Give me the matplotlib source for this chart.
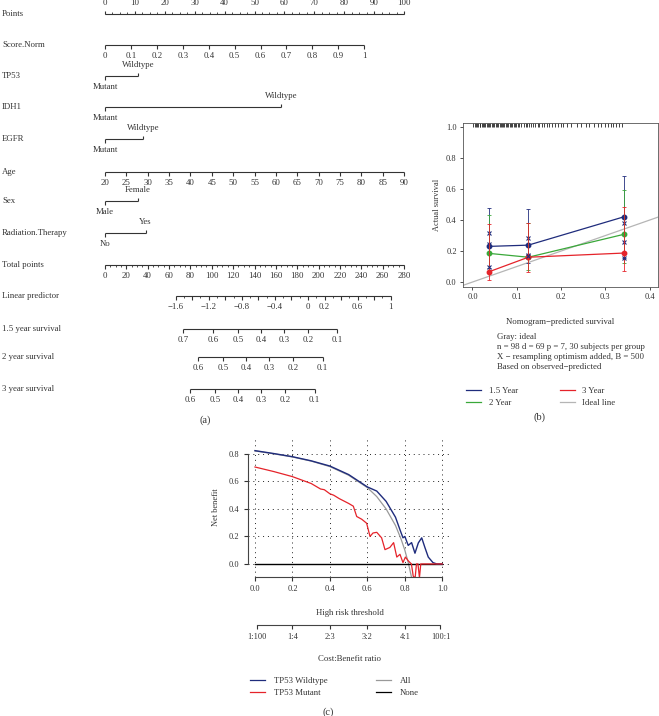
import numpy as np
import matplotlib
matplotlib.use("Agg")
import matplotlib.pyplot as plt
from matplotlib.lines import Line2D

plt.rcParams['font.family'] = ['Liberation Serif', 'DejaVu Serif']

# ---------------- data: nomogram (a) ----------------
points_ticks = list(range(0, 101, 10))
score_norm_ticks = [0, 0.1, 0.2, 0.3, 0.4, 0.5, 0.6, 0.7, 0.8, 0.9, 1]
score_norm_max_pts = 86.7
tp53_levels = ["Mutant", "Wildtype"]
tp53_pts = [0, 11.0]
idh1_levels = ["Mutant", "Wildtype"]
idh1_pts = [0, 59.0]
egfr_levels = ["Mutant", "Wildtype"]
egfr_pts = [0, 12.7]
age_ticks = list(range(20, 91, 5))
age_max_pts = 100
sex_levels = ["Male", "Female"]
sex_pts = [0, 11.0]
radio_levels = ["No", "Yes"]
radio_pts = [0, 13.6]
total_ticks = list(range(0, 281, 20))
total_max = 280
lp_labels = [-1.6, -1.2, -0.8, -0.4, 0, 0.2, 0.6, 1]
lp_range = (-1.6, 1.0)
lp_total_at0 = 190.1      # total points at linear predictor 0
lp_total_slope = 77.44    # total points per unit of linear predictor
surv_15_ticks = [0.7, 0.6, 0.5, 0.4, 0.3, 0.2, 0.1]
surv_2_ticks = [0.6, 0.5, 0.4, 0.3, 0.2, 0.1]
surv_3_ticks = [0.6, 0.5, 0.4, 0.3, 0.2, 0.1]
surv_offset = {"1.5": 0.479, "2": 0.658, "3": 0.755}   # log(-log S0)

# ---------------- data: calibration (b) ----------------
cal_pred = [0.037, 0.126, 0.342]
obs_15 = [0.230, 0.238, 0.421]
cor_15 = [0.314, 0.286, 0.379]
lo_15 = [0.090, 0.120, 0.155]
hi_15 = [0.476, 0.471, 0.685]
obs_2 = [0.185, 0.160, 0.308]
cor_2 = [0.245, 0.175, 0.260]
lo_2 = [0.060, 0.075, 0.120]
hi_2 = [0.432, 0.380, 0.594]
obs_3 = [0.066, 0.160, 0.187]
cor_3 = [0.100, 0.165, 0.157]
lo_3 = [0.013, 0.066, 0.073]
hi_3 = [0.374, 0.383, 0.486]
rug_pred = [0.002, 0.005, 0.008, 0.010, 0.013, 0.016, 0.018, 0.021, 0.024,
             0.027, 0.029, 0.032, 0.035, 0.037, 0.040, 0.043, 0.046, 0.049,
             0.052, 0.055, 0.058, 0.061, 0.064, 0.067, 0.070, 0.072, 0.075,
             0.078, 0.081, 0.084, 0.087, 0.090, 0.093, 0.096, 0.099, 0.102,
             0.106, 0.110, 0.116, 0.120, 0.124, 0.128, 0.133, 0.137, 0.142,
             0.147, 0.151, 0.156, 0.162, 0.168, 0.173, 0.179, 0.186, 0.192,
             0.199, 0.205, 0.214, 0.222, 0.236, 0.244, 0.256, 0.263, 0.274,
             0.283, 0.291, 0.298, 0.306, 0.312, 0.318, 0.325, 0.331, 0.338]

# ---------------- data: decision curve (c) ----------------
thr_wt = [0, 0.1, 0.2, 0.3, 0.4, 0.5, 0.6, 0.65, 0.7, 0.75, 0.775, 0.79,
          0.80, 0.818, 0.836, 0.854, 0.872, 0.89, 0.907, 0.925, 0.95, 0.97, 1.0]
nb_wt = [0.824, 0.803, 0.78, 0.75, 0.712, 0.65, 0.56, 0.53, 0.455, 0.34,
         0.245, 0.19, 0.2, 0.135, 0.155, 0.078, 0.153, 0.19, 0.12, 0.05,
         0.01, 0.0, 0.0]
thr_mut = [0, 0.1, 0.2, 0.3, 0.35, 0.37, 0.4, 0.42, 0.45, 0.5, 0.525, 0.543,
           0.57, 0.596, 0.614, 0.63, 0.65, 0.676, 0.694, 0.72, 0.74, 0.757,
           0.774, 0.79, 0.803, 0.82, 0.835, 0.845, 0.855, 0.862, 0.87, 0.878,
           0.885, 1.0]
nb_mut = [0.705, 0.672, 0.635, 0.585, 0.545, 0.54, 0.51, 0.50, 0.475, 0.44,
          0.42, 0.345, 0.325, 0.296, 0.2, 0.225, 0.23, 0.19, 0.104, 0.12,
          0.155, 0.05, 0.07, 0.01, 0.05, 0.02, 0.0, -0.09, -0.1, 0.0, 0.0,
          -0.1, 0.0, 0.0]
thr_all = [0, 0.1, 0.2, 0.3, 0.4, 0.5, 0.6, 0.65, 0.7, 0.75, 0.78, 0.8,
           0.82, 0.84, 0.86]
nb_all = [0.822, 0.801, 0.778, 0.748, 0.708, 0.645, 0.555, 0.49, 0.40, 0.28,
          0.18, 0.10, 0.0, -0.125, -0.29]
thr_none = [0, 1.0]
nb_none = [0, 0]
cost_benefit = ["1:100", "1:4", "2:3", "3:2", "4:1", "100:1"]

# ---------------- layout helpers ----------------
W, H = 659, 716
fig = plt.figure(figsize=(W / 100, H / 100), dpi=100)
INK = '#333333'
FS = 6.3
NAVY = '#1f2c7c'
RED = '#e5232a'
GREEN = '#3aa83a'
GRAY = '#b5b5b5'


def px_axes(x0, y0, x1, y1):
    return fig.add_axes([x0 / W, 1 - y1 / H, (x1 - x0) / W, (y1 - y0) / H])


def ftext(x, y, s, **kw):
    kw.setdefault('fontsize', FS)
    kw.setdefault('color', INK)
    fig.text(x / W, 1 - y / H, s, **kw)


def fmt(v):
    return ('%g' % v).replace('-', '\u2212')


# ---------------- (a) nomogram ----------------
axa = px_axes(0, 0, 420, 425)
axa.set_xlim(-105 / 2.99, 315 / 2.99)
axa.set_ylim(425, 0)
axa.axis('off')


def nomo_scale(y, ticks, lab_pos, labels, side='below', minor=None):
    d = 1 if side == 'below' else -1
    axa.hlines(y, min(ticks), max(ticks), color=INK, lw=0.8)
    axa.vlines(ticks, y, y + d * 3.5, color=INK, lw=0.8)
    if minor is not None:
        axa.vlines(minor, y, y + d * 2, color=INK, lw=0.6)
    for p, lab in zip(lab_pos, labels):
        axa.text(p, y + d * 11, lab, ha='center', va='center',
                 fontsize=FS, color=INK)


def nomo_cat(y, pts, levels):
    axa.hlines(y, min(pts), max(pts), color=INK, lw=0.8)
    for i, (p, lev) in enumerate(zip(pts, levels)):
        d = 1 if i % 2 == 0 else -1
        axa.vlines(p, y, y + d * 3.5, color=INK, lw=0.8)
        axa.text(p, y + d * 11, lev, ha='center', va='center',
                 fontsize=FS, color=INK)


def row_label(y, s):
    axa.text(0.005, y, s, transform=axa.get_yaxis_transform(),
             ha='left', va='center', fontsize=FS, color=INK)


def total_to_pts(t):
    return np.asarray(t, dtype=float) * 100 / total_max


def lp_to_pts(lp):
    return total_to_pts(lp_total_at0 + lp_total_slope * np.asarray(lp))


def surv_to_pts(s, key):
    lp = np.log(-np.log(np.asarray(s))) - surv_offset[key]
    return lp_to_pts(lp)


y = 14
row_label(y, "Points")
nomo_scale(y, points_ticks, points_ticks, [str(t) for t in points_ticks],
           side='above', minor=np.arange(0, 100.1, 2.5))

y = 45
row_label(y, "Score.Norm")
sp = np.array(score_norm_ticks) * score_norm_max_pts
nomo_scale(y, sp, sp, [fmt(t) for t in score_norm_ticks])

for y, name, pts, lev in [(76, "TP53", tp53_pts, tp53_levels),
                          (107, "IDH1", idh1_pts, idh1_levels),
                          (139, "EGFR", egfr_pts, egfr_levels)]:
    row_label(y, name)
    nomo_cat(y, pts, lev)

y = 172
row_label(y, "Age")
ap = (np.array(age_ticks) - age_ticks[0]) * age_max_pts / (age_ticks[-1] - age_ticks[0])
nomo_scale(y, ap, ap, [str(a) for a in age_ticks])

for y, name, pts, lev in [(201, "Sex", sex_pts, sex_levels),
                          (233, "Radiation.Therapy", radio_pts, radio_levels)]:
    row_label(y, name)
    nomo_cat(y, pts, lev)

y = 265
row_label(y, "Total points")
tp = total_to_pts(total_ticks)
nomo_scale(y, tp, tp, [str(t) for t in total_ticks],
           minor=total_to_pts(np.arange(0, total_max + 1, 5)))

y = 296
row_label(y, "Linear predictor")
lp_major = np.round(np.arange(lp_range[0], lp_range[1] + 0.01, 0.2), 2)
lp_minor = np.round(np.arange(lp_range[0], lp_range[1] + 0.01, 0.1), 2)
nomo_scale(y, lp_to_pts(lp_major), lp_to_pts(lp_labels),
           [fmt(v) for v in lp_labels], minor=lp_to_pts(lp_minor))

for y, key, ticks in [(329, "1.5", surv_15_ticks), (357, "2", surv_2_ticks),
                      (389, "3", surv_3_ticks)]:
    row_label(y, "%s year survival" % key)
    p = surv_to_pts(ticks, key)
    nomo_scale(y, p, p, [fmt(t) for t in ticks])

ftext(205, 420, "(a)", fontsize=7.5, ha='center', va='center')

# ---------------- (b) calibration ----------------
axb = px_axes(463, 123, 658, 287)
axb.set_xlim(-0.0214, 0.4187)
axb.set_ylim(-0.032, 1.026)
for s in axb.spines.values():
    s.set_color('#555555')
    s.set_linewidth(0.6)
axb.tick_params(direction='out', length=2.5, width=0.6, labelsize=FS - 0.3,
                colors=INK, pad=2)
axb.set_xticks([0.0, 0.1, 0.2, 0.3, 0.4])
axb.set_xticklabels(["0.0", "0.1", "0.2", "0.3", "0.4"])
axb.set_yticks([0.0, 0.2, 0.4, 0.6, 0.8, 1.0])
axb.set_yticklabels(["0.0", "0.2", "0.4", "0.6", "0.8", "1.0"])
axb.plot([-0.05, 0.5], [-0.05, 0.5], color=GRAY, lw=0.9, zorder=1)
axb.vlines(rug_pred, 1.0, 1.026, color='#222222', lw=0.6)
for obs, cor, lo, hi, col in [(obs_15, cor_15, lo_15, hi_15, NAVY),
                              (obs_2, cor_2, lo_2, hi_2, GREEN),
                              (obs_3, cor_3, lo_3, hi_3, RED)]:
    obs = np.array(obs)
    axb.errorbar(cal_pred, obs, yerr=[obs - np.array(lo), np.array(hi) - obs],
                 fmt='none', ecolor=col, elinewidth=0.7, capsize=1.5,
                 capthick=0.7, alpha=0.85)
    axb.plot(cal_pred, obs, color=col, lw=0.9, marker='o', ms=3.2,
             mfc=col, mec=col)
    axb.plot(cal_pred, cor, ls='none', marker='x', ms=3, mew=0.8, color=NAVY)
axb.set_ylabel("Actual survival", fontsize=FS - 0.3, color=INK, labelpad=4)

ftext(560, 322, "Nomogram\u2212predicted survival", ha='center', va='center')
ftext(497, 337, "Gray: ideal", ha='left', va='center')
ftext(497, 347, "n = 98 d = 69 p = 7, 30 subjects per group", ha='left', va='center')
ftext(497, 357, "X \u2212 resampling optimism added, B = 500", ha='left', va='center')
ftext(497, 367, "Based on observed\u2212predicted", ha='left', va='center')

hb = [Line2D([], [], color=NAVY, lw=0.9), Line2D([], [], color=GREEN, lw=0.9),
      Line2D([], [], color=RED, lw=0.9), Line2D([], [], color=GRAY, lw=0.9)]
fig.legend(hb, ["1.5 Year", "2 Year", "3 Year", "Ideal line"], ncol=2,
           loc='upper left', bbox_to_anchor=(458 / W, 1 - 379 / H),
           frameon=False, fontsize=FS, handlelength=1.7, handletextpad=0.9,
           columnspacing=4.8, labelspacing=0.45, labelcolor=INK)
ftext(540, 417, "(b)", fontsize=7.5, ha='center', va='center')

# ---------------- (c) decision curve ----------------
axc = px_axes(247.5, 438, 449.8, 577)
axc.set_xlim(-0.04, 1.04)
axc.set_ylim(-0.095, 0.916)
axc.spines['top'].set_visible(False)
axc.spines['right'].set_visible(False)
axc.spines['left'].set_bounds(0, 0.8)
axc.spines['bottom'].set_bounds(0, 1.0)
for s in ('left', 'bottom'):
    axc.spines[s].set_color('#444444')
    axc.spines[s].set_linewidth(0.8)
axc.set_xticks([0, 0.2, 0.4, 0.6, 0.8, 1.0])
axc.set_xticklabels(["0.0", "0.2", "0.4", "0.6", "0.8", "1.0"])
axc.set_yticks([0, 0.2, 0.4, 0.6, 0.8])
axc.set_yticklabels(["0.0", "0.2", "0.4", "0.6", "0.8"])
axc.tick_params(direction='out', length=3, width=0.8, labelsize=FS - 0.3,
                colors=INK, pad=3)
axc.grid(True, color='#222222', lw=0.7, ls=(0, (1, 4)))
axc.plot(thr_all, nb_all, color='#999999', lw=0.9)
axc.plot(thr_none, nb_none, color='black', lw=1.0)
axc.plot(thr_wt, nb_wt, color=NAVY, lw=1.0)
axc.plot(thr_mut, nb_mut, color=RED, lw=0.9)
axc.set_ylabel("Net benefit", fontsize=FS - 0.3, color=INK, labelpad=6)
ftext(350, 613, "High risk threshold", ha='center', va='center')

# cost:benefit ratio axis
axcb = px_axes(247.5, 605, 449.8, 625)
axcb.set_xlim(axc.get_xlim())
axcb.patch.set_visible(False)
for s in ('top', 'right', 'left'):
    axcb.spines[s].set_visible(False)
cb_pos = [int(r.split(':')[0]) / (int(r.split(':')[0]) + int(r.split(':')[1]))
          for r in cost_benefit]
axcb.spines['bottom'].set_bounds(min(cb_pos), max(cb_pos))
axcb.spines['bottom'].set_color('#444444')
axcb.spines['bottom'].set_linewidth(0.8)
axcb.set_yticks([])
axcb.set_xticks(cb_pos)
axcb.set_xticklabels(cost_benefit)
axcb.tick_params(direction='out', length=3, width=0.8, labelsize=FS - 0.3,
                 colors=INK, pad=3)
ftext(350, 659, "Cost:Benefit ratio", ha='center', va='center')

hc = [Line2D([], [], color=NAVY, lw=0.9), Line2D([], [], color=RED, lw=0.9),
      Line2D([], [], color='#999999', lw=0.9), Line2D([], [], color='black', lw=0.9)]
fig.legend(hc, ["TP53 Wildtype", "TP53 Mutant", "All", "None"], ncol=2,
           loc='upper left', bbox_to_anchor=(242 / W, 1 - 669 / H),
           frameon=False, fontsize=FS, handlelength=1.7, handletextpad=1.0,
           columnspacing=5.6, labelspacing=0.45, labelcolor=INK)
ftext(328, 712, "(c)", fontsize=7.5, ha='center', va='center')

fig.savefig("out.png", dpi=100)
